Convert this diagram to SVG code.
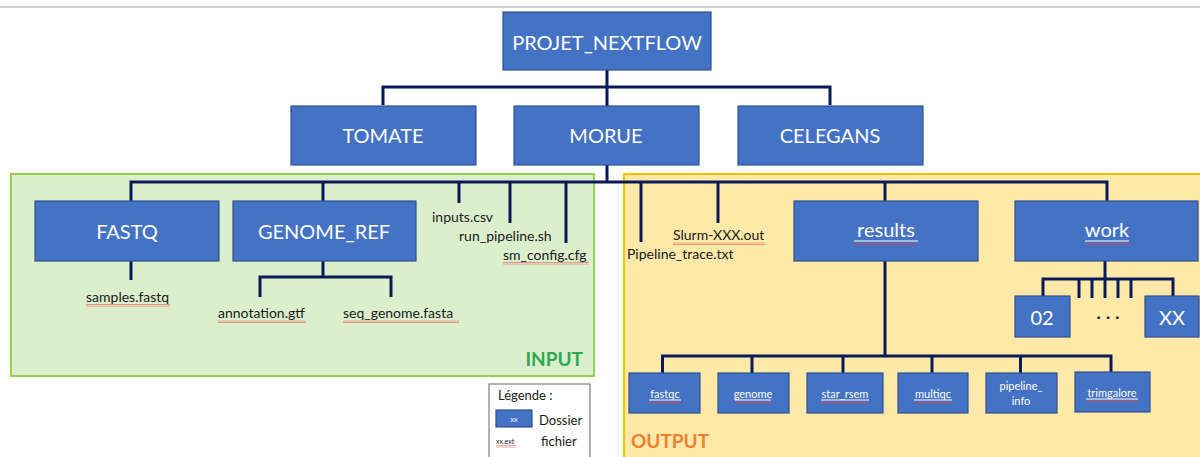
<svg xmlns="http://www.w3.org/2000/svg" width="1200" height="457" viewBox="0 0 1200 457">
<style>
.box{fill:#4472c4;stroke:#2f528f;stroke-width:1.2}
.bt{fill:#fff;font-family:Lato,"Liberation Sans",sans-serif;text-anchor:middle;dominant-baseline:central}
.big{font-size:20px}
.sm{font-size:11px}
.ft{fill:#1a1a1a;font-family:Lato,"Liberation Sans",sans-serif;font-size:14px;dominant-baseline:central}
.con{fill:none;stroke:#0a1a58;stroke-width:3}
.ul{stroke:#fff;stroke-width:1}
.sq{fill:url(#wave)}
</style>
<defs>
<pattern id="wave" width="4" height="3" patternUnits="userSpaceOnUse">
<polyline points="0,2.5 1,0.5 2,2.5 3,0.5 4,2.5" fill="none" stroke="#e04848" stroke-width="0.6" stroke-opacity="0.85"/>
</pattern>
</defs>
<rect width="1200" height="457" fill="#fff"/>
<line x1="0" y1="7" x2="1200" y2="7" stroke="#bdbdbd" stroke-width="1.5"/>
<g id="input-zone">
<rect x="11" y="174" width="583" height="202" fill="#dcefcd" stroke="#92d050" stroke-width="2"/>
<text x="583" y="358" font-family="Lato,'Liberation Sans',sans-serif" font-size="19" font-weight="bold" fill="#2fa84f" text-anchor="end" dominant-baseline="central">INPUT</text>
</g>
<g id="output-zone">
<rect x="624" y="174" width="590" height="300" fill="#fee9a8" stroke="#ffc000" stroke-width="2"/>
<text x="631" y="440" font-family="Lato,'Liberation Sans',sans-serif" font-size="19" font-weight="bold" fill="#f08030" dominant-baseline="central">OUTPUT</text>
</g>
<g id="connectors">
<path class="con" d="M607,70 V87 M383,105 V87 H830 V105 M607,87 V106"/>
<path class="con" d="M607,164 V182 M131,201 V182 H1107 V201 M323,182 V201 M459,182 V203 M510,182 V223 M566,182 V243 M641,182 V242 M718,182 V223 M885,182 V201"/>
<path class="con" d="M131,261 V280 M323,261 V277 M260,297 V277 H391 V297"/>
<path class="con" d="M885,261 V356 M662.5,373 V356 H1111 V373 M752,356 V373 M843,356 V373 M932,356 V373 M1020.5,356 V373"/>
<path class="con" d="M1105,261 V298 M1043,296 V279 H1173 V296 M1079,279 V298 M1092,279 V298 M1118,279 V298 M1131,279 V298"/>
</g>
<g id="projet"><rect class="box" x="503" y="12" width="208" height="58"/><text class="bt big" x="607" y="42">PROJET_NEXTFLOW</text></g>
<g id="tomate"><rect class="box" x="291" y="106" width="185" height="59"/><text class="bt big" x="383" y="135">TOMATE</text></g>
<g id="morue"><rect class="box" x="514" y="106" width="185" height="59"/><text class="bt big" x="606" y="135">MORUE</text></g>
<g id="celegans"><rect class="box" x="738" y="106" width="185" height="59"/><text class="bt big" x="830" y="135">CELEGANS</text></g>
<g id="fastq"><rect class="box" x="35" y="201" width="184" height="60"/><text class="bt big" x="127" y="231">FASTQ</text></g>
<g id="genome_ref"><rect class="box" x="233" y="201" width="183" height="60"/><text class="bt big" x="324" y="231">GENOME_REF</text></g>
<g id="samples"><text class="ft" x="86" y="296">samples.fastq</text><rect class="sq" x="86" y="304" width="84" height="3"/></g>
<g id="annotation"><text class="ft" x="218" y="312">annotation.gtf</text><rect class="sq" x="218" y="320" width="88" height="3"/></g>
<g id="seq_genome"><text class="ft" x="343" y="312">seq_genome.fasta</text><rect class="sq" x="343" y="320" width="116" height="3"/></g>
<g id="inputs"><text class="ft" x="432" y="216">inputs.csv</text></g>
<g id="run_pipeline"><text class="ft" x="459" y="235">run_pipeline.sh</text></g>
<g id="sm_config"><text class="ft" x="503" y="254">sm_config.cfg</text><rect class="sq" x="503" y="262" width="86" height="3"/></g>
<g id="pipeline_trace"><text class="ft" x="627" y="253">Pipeline_trace.txt</text></g>
<g id="slurm"><text class="ft" x="673" y="234">Slurm-XXX.out</text><rect class="sq" x="673" y="242" width="92" height="3"/></g>
<g id="results"><rect class="box" x="794" y="201" width="184" height="60"/><text class="bt big" x="886" y="229">results</text><line class="ul" x1="854" y1="241" x2="918" y2="241"/><rect class="sq" x="854" y="242" width="64" height="3"/></g>
<g id="work"><rect class="box" x="1015" y="201" width="183" height="60"/><text class="bt big" x="1107" y="229">work</text><line class="ul" x1="1085" y1="241" x2="1129" y2="241"/><rect class="sq" x="1085" y="242" width="44" height="3"/></g>
<g id="w02"><rect class="box" x="1015" y="296" width="55" height="41"/><text class="bt big" x="1042" y="317">02</text></g>
<g id="dots"><text x="1108" y="316" font-family="Lato,'Liberation Sans',sans-serif" font-size="18" fill="#1a1a1a" text-anchor="middle" dominant-baseline="central">· · ·</text></g>
<g id="wXX"><rect class="box" x="1145" y="296" width="54" height="41"/><text class="bt big" x="1172" y="317">XX</text></g>
<g id="fastqc"><rect class="box" x="629" y="373" width="71" height="40"/><text class="bt sm" x="665" y="393">fastqc</text><line class="ul" x1="649" y1="400" x2="681" y2="400"/><rect class="sq" x="649" y="401" width="32" height="3"/></g>
<g id="genome"><rect class="box" x="718" y="373" width="71" height="40"/><text class="bt sm" x="753" y="393">genome</text><line class="ul" x1="735" y1="400" x2="771" y2="400"/><rect class="sq" x="735" y="401" width="36" height="3"/></g>
<g id="star_rsem"><rect class="box" x="807" y="373" width="76" height="40"/><text class="bt sm" x="845" y="393">star_rsem</text><line class="ul" x1="821" y1="400" x2="869" y2="400"/><rect class="sq" x="821" y="401" width="48" height="3"/></g>
<g id="multiqc"><rect class="box" x="898" y="373" width="70" height="40"/><text class="bt sm" x="933" y="393">multiqc</text><line class="ul" x1="914" y1="400" x2="952" y2="400"/><rect class="sq" x="914" y="401" width="38" height="3"/></g>
<g id="pipeline_info"><rect class="box" x="986" y="373" width="71" height="40"/><text class="bt sm" x="1021" y="385">pipeline_</text><text class="bt sm" x="1021" y="400">info</text></g>
<g id="trimgalore"><rect class="box" x="1075" y="372" width="75" height="40"/><text class="bt sm" x="1112" y="392">trimgalore</text><line class="ul" x1="1086" y1="399" x2="1138" y2="399"/><rect class="sq" x="1086" y="400" width="52" height="3"/></g>
<g id="legend">
<rect x="489" y="384" width="101" height="80" fill="#fff" stroke="#7f7f7f" stroke-width="1.2"/>
<text x="498" y="395" font-family="Lato,'Liberation Sans',sans-serif" font-size="13" fill="#1a1a1a" dominant-baseline="central">Légende :</text>
<rect class="box" x="496" y="410" width="36" height="17"/>
<text class="bt" x="514" y="418.5" font-size="7">xx</text>
<text x="539" y="420" font-family="Lato,'Liberation Sans',sans-serif" font-size="13" fill="#1a1a1a" dominant-baseline="central">Dossier</text>
<text x="496" y="441" font-family="Lato,'Liberation Sans',sans-serif" font-size="7" fill="#1a1a1a" dominant-baseline="central">xx.ext</text>
<rect class="sq" x="496" y="445" width="20" height="3"/>
<text x="541" y="441" font-family="Lato,'Liberation Sans',sans-serif" font-size="13" fill="#1a1a1a" dominant-baseline="central">fichier</text>
</g>
</svg>
